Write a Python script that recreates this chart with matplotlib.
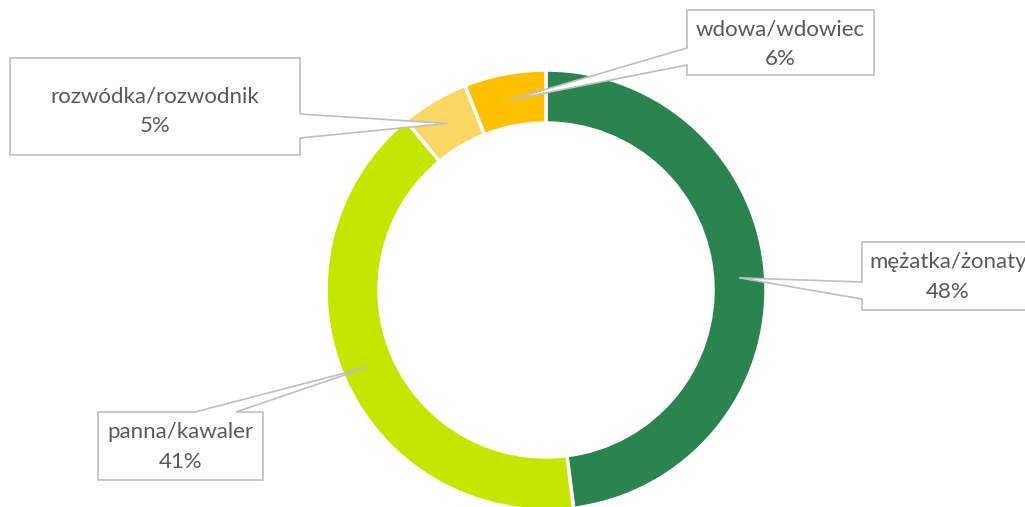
import numpy as np
import matplotlib.pyplot as plt
from matplotlib.patches import Polygon

W, H = 1025, 507

labels = ["mężatka/żonaty", "panna/kawaler", "rozwódka/rozwodnik", "wdowa/wdowiec"]
shares = [48, 41, 5, 6]
colors = ["#2A844F", "#C6E600", "#FAD662", "#FFC000"]

# callout boxes in pixels from the top-left: (x0, y0, x1, y1), tail side, tail base
boxes = [
    ((862, 242, 1034, 310), "left", (282, 299)),
    ((98, 412, 263, 480), "top", (195, 236)),
    ((10, 58, 300, 155), "right", (114, 138)),
    ((687, 10, 874, 75), "left", (48, 65)),
]
text_dy = [1, 1, 5, 2]

center = (546, H - 290)
r_out, r_in = 220, 167

plt.rcParams['font.family'] = ['Lato', 'DejaVu Sans']
fig = plt.figure(figsize=(W / 100, H / 100), dpi=100)
ax = fig.add_axes([0, 0, 1, 1])

wedges, _ = ax.pie(shares, colors=colors, center=center, radius=r_out,
                   startangle=90, counterclock=False,
                   wedgeprops=dict(width=r_out - r_in, edgecolor="white", linewidth=2.5))
ax.set_xlim(0, W)
ax.set_ylim(0, H)
ax.set_aspect("equal")
ax.axis("off")


def callout(box, side, base, tip, text, dy):
    x0, y0, x1, y1 = box
    a, b = base
    if side == "left":
        pts = [(x0, y0), (x1, y0), (x1, y1), (x0, y1), (x0, b), tip, (x0, a)]
    elif side == "right":
        pts = [(x0, y0), (x1, y0), (x1, a), tip, (x1, b), (x1, y1), (x0, y1)]
    else:
        pts = [(x0, y0), (a, y0), tip, (b, y0), (x1, y0), (x1, y1), (x0, y1)]
    pts = [(px, H - py) for px, py in pts]
    ax.add_patch(Polygon(pts, closed=True, facecolor="white", edgecolor="#BFBFBF",
                         linewidth=1.2, zorder=5, clip_on=False))
    ax.text((x0 + x1) / 2, H - ((y0 + y1) / 2 + dy), text, ha="center", va="center",
            fontsize=16, color="#595959", linespacing=1.6, zorder=6)


r_tip = (r_out + r_in) / 2
for w, lab, val, (box, side, base), dy in zip(wedges, labels, shares, boxes, text_dy):
    ang = np.deg2rad((w.theta1 + w.theta2) / 2)
    tip_x = center[0] + r_tip * np.cos(ang)
    tip_y = H - (center[1] + r_tip * np.sin(ang))
    callout(box, side, base, (tip_x, tip_y), f"{lab}\n{val}%", dy)

fig.savefig("out.png", dpi=100)
